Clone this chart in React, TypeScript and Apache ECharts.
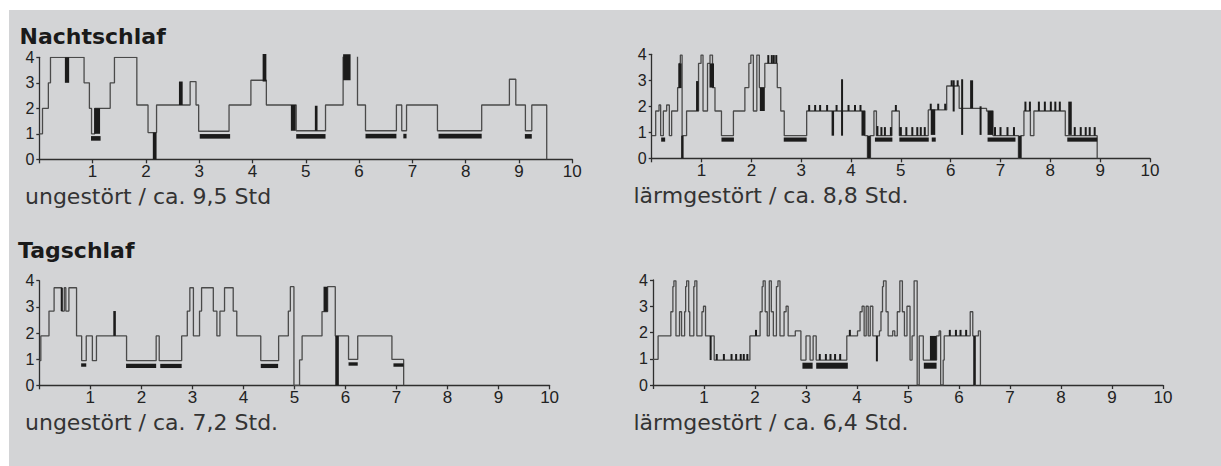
import React, { useEffect, useRef } from "react";
import * as echarts from "echarts";

// ---------- DATA ----------
// hypnogram steps: [hour, stage] (stage holds until next point)
const nightCalm = [
  [0, 1.0], [0.06, 2.0], [0.17, 3.0], [0.21, 4.0], [0.84, 3.0], [0.94, 2.0], [0.98, 1.0], [1.04, 2.0],
  [1.33, 3.0], [1.41, 4.0], [1.83, 2.13], [2.04, 1.05], [2.2, 2.13], [2.83, 3.05], [2.94, 2.13], [2.99, 1.1],
  [3.56, 2.13], [3.97, 3.1], [4.26, 2.13], [4.82, 1.12], [5.37, 2.13], [5.7, 4.12], [5.97, 2.13], [6.12, 1.12],
  [6.7, 2.13], [6.8, 1.12], [6.89, 2.13], [7.47, 1.12], [8.3, 2.13], [8.82, 3.14], [8.94, 2.13], [9.12, 1.12],
  [9.24, 2.13], [9.52, 0],
];
const nightNoise = [
  [0, 0.87], [0.08, 1.82], [0.147, 2.05], [0.18, 0.87], [0.234, 1.82], [0.3, 2.05], [0.354, 0.87], [0.4, 1.82],
  [0.52, 2.72], [0.555, 3.65], [0.575, 3.97], [0.61, 0.87], [0.7, 1.82], [0.94, 3.65], [0.99, 3.97], [1.03, 1.82],
  [1.12, 3.65], [1.17, 3.97], [1.22, 2.72], [1.27, 1.82], [1.4, 0.87], [1.64, 1.82], [1.87, 2.72], [1.95, 3.65],
  [1.99, 3.97], [2.04, 1.82], [2.11, 3.97], [2.16, 2.72], [2.27, 3.65], [2.52, 2.72], [2.59, 1.82], [2.66, 0.87],
  [3.11, 1.82], [4.28, 0.87], [4.33, 0], [4.39, 0.87], [4.46, 1.82], [4.51, 0.87], [4.82, 1.82], [4.97, 0.87],
  [5.55, 1.86], [5.92, 2.78], [6.17, 1.92], [6.72, 1.82], [6.85, 0.87], [7.36, 0], [7.41, 0.87], [7.47, 1.82],
  [7.6, 0.87], [7.67, 1.82], [8.3, 0.87], [8.94, 0],
];
const dayCalm = [
  [0, 0.94], [0.03, 1.89], [0.19, 2.84], [0.29, 3.73], [0.44, 2.84], [0.49, 3.73], [0.52, 2.84], [0.58, 3.73],
  [0.73, 1.89], [0.83, 0.94], [0.92, 1.89], [1.04, 0.94], [1.12, 1.89], [1.71, 0.94], [2.29, 1.89], [2.35, 0.94],
  [2.79, 1.89], [2.9, 2.84], [2.95, 3.73], [3.02, 1.89], [3.14, 2.84], [3.18, 3.73], [3.41, 2.84], [3.48, 1.89],
  [3.54, 2.84], [3.63, 3.73], [3.8, 2.84], [3.87, 1.89], [4.34, 0.94], [4.69, 1.89], [4.88, 2.84], [4.92, 3.77],
  [4.99, 0], [5.1, 0.97], [5.15, 1.89], [5.54, 2.82], [5.65, 3.77], [5.8, 1.89], [6.06, 0.99], [6.24, 1.89],
  [6.91, 0.99], [7.14, 0],
];
const dayNoise = [
  [0, 0.98], [0.1, 1.87], [0.35, 2.79], [0.39, 3.75], [0.41, 3.97], [0.45, 1.87], [0.52, 2.79], [0.56, 1.87],
  [0.62, 2.79], [0.64, 3.75], [0.66, 3.97], [0.7, 2.79], [0.72, 1.87], [0.8, 3.75], [0.82, 3.97], [0.86, 1.87],
  [0.96, 2.79], [0.99, 3.0], [1.03, 1.87], [1.2, 0.95], [1.9, 1.87], [2.1, 2.79], [2.14, 3.75], [2.16, 3.97],
  [2.2, 2.79], [2.24, 1.87], [2.28, 3.97], [2.32, 2.79], [2.36, 1.87], [2.42, 3.75], [2.45, 3.97], [2.49, 1.87],
  [2.57, 2.79], [2.61, 3.0], [2.65, 1.87], [2.79, 2.06], [2.9, 0.95], [3.0, 1.87], [3.08, 0.95], [3.14, 1.87],
  [3.2, 0.95], [3.8, 1.87], [4.01, 2.06], [4.06, 2.79], [4.1, 3.0], [4.14, 1.87], [4.18, 3.0], [4.22, 1.87],
  [4.26, 3.0], [4.31, 1.87], [4.44, 2.06], [4.47, 2.79], [4.5, 3.75], [4.52, 3.97], [4.57, 2.79], [4.61, 1.87],
  [4.7, 2.06], [4.74, 1.87], [4.79, 2.79], [4.84, 3.97], [4.89, 2.79], [4.93, 1.87], [4.98, 3.0], [5.04, 0.95],
  [5.08, 1.87], [5.12, 3.97], [5.18, 0], [5.22, 1.87], [5.3, 0.95], [5.56, 1.87], [5.61, 2.06], [5.64, 0],
  [5.69, 0.95], [5.71, 1.87], [6.22, 2.79], [6.27, 1.87], [6.3, 0], [6.32, 1.87], [6.38, 2.06], [6.42, 0],
];

// black blocks: [hourFrom, hourTo, stageFrom, stageTo]
const nightCalmBlocks = [
  [0.48, 0.56, 4.0, 3.0], [1.03, 1.14, 2.0, 1.0], [2.13, 2.2, 1.05, 0], [2.62, 2.69, 3.05, 2.13],
  [4.19, 4.26, 4.13, 3.05], [4.72, 4.81, 2.13, 1.12], [5.17, 5.22, 2.1, 1.12], [5.7, 5.84, 4.12, 3.1],
  [0.97, 1.15, 0.73, 0.91], [3.01, 3.58, 0.81, 0.99], [4.82, 5.37, 0.81, 0.99], [6.12, 6.7, 0.82, 1.0],
  [6.83, 6.89, 0.82, 1.0], [7.49, 8.3, 0.82, 1.0], [9.11, 9.24, 0.81, 0.99],
];
const nightNoiseBlocks = [
  [0.535, 0.6, 3.65, 2.7], [0.59, 0.64, 0.87, 0], [0.89, 0.94, 2.97, 1.82], [1.16, 1.25, 3.65, 2.72],
  [2.17, 2.27, 2.72, 1.82], [3.61, 3.66, 1.82, 0.87], [3.8, 3.84, 3.04, 1.82], [4.21, 4.28, 1.82, 0.87],
  [4.33, 4.39, 0.87, 0], [4.51, 4.55, 1.24, 0.87], [4.78, 4.82, 1.2, 0.87], [4.97, 5.02, 1.2, 0.87],
  [5.6, 5.69, 1.88, 0.9], [6.04, 6.08, 3.0, 1.8], [6.21, 6.25, 3.04, 0.9], [6.39, 6.45, 3.0, 1.92],
  [6.74, 6.85, 1.82, 0.9], [7.36, 7.42, 0.87, 0], [8.36, 8.43, 2.18, 0.9],
  [0.19, 0.27, 0.64, 0.8], [1.4, 1.65, 0.64, 0.8], [2.65, 3.11, 0.64, 0.8], [4.48, 4.83, 0.64, 0.8],
  [4.97, 5.56, 0.64, 0.8], [5.62, 5.7, 0.64, 0.8], [6.74, 7.3, 0.64, 0.8], [8.34, 8.94, 0.64, 0.8],
];
const dayCalmBlocks = [
  [0.42, 0.46, 3.73, 2.84], [1.45, 1.5, 2.84, 1.89], [5.57, 5.65, 3.77, 2.82], [5.8, 5.87, 1.89, 0],
  [0.82, 0.92, 0.71, 0.84], [1.7, 2.29, 0.66, 0.82], [2.37, 2.79, 0.66, 0.82], [4.34, 4.68, 0.66, 0.82],
  [6.06, 6.24, 0.75, 0.88], [6.94, 7.14, 0.71, 0.84],
];
const dayNoiseBlocks = [
  [2.93, 3.13, 0.62, 0.85], [3.2, 3.82, 0.62, 0.85], [5.31, 5.56, 0.62, 0.85], [5.43, 5.56, 1.87, 0.95],
];

// thin marks: [hour, stageFrom, stageTo]
const nightCalmMarks: number[][] = [];
const nightNoiseMarks = [
  [2.34, 3.65, 3.97], [2.41, 3.65, 3.97], [2.45, 3.65, 3.97], [2.5, 3.65, 3.97],
  [3.16, 1.82, 2.05], [3.28, 1.82, 2.05], [3.38, 1.82, 2.05], [3.52, 1.82, 2.05], [3.71, 1.82, 2.05],
  [3.95, 1.82, 2.05], [4.08, 1.82, 2.05], [4.19, 1.82, 2.05], [4.9, 1.82, 2.05], [3.82, 1.82, 0.87],
  [4.61, 0.87, 1.2], [4.68, 0.87, 1.2], [5.11, 0.87, 1.2], [5.23, 0.87, 1.2], [5.33, 0.87, 1.2],
  [5.4, 0.87, 1.2], [5.48, 0.87, 1.2], [5.6, 1.86, 2.1], [5.75, 1.86, 2.1], [5.89, 1.86, 2.1],
  [6.02, 2.78, 3.0], [6.14, 2.78, 3.0], [6.6, 2.0, 0.9], [6.89, 0.87, 1.2], [7.0, 0.87, 1.2],
  [7.14, 0.87, 1.2], [7.27, 0.87, 1.2], [7.5, 1.82, 2.18], [7.59, 1.82, 2.18], [7.77, 1.82, 2.18],
  [7.89, 1.82, 2.18], [8.01, 1.82, 2.18], [8.1, 1.82, 2.18], [8.19, 1.82, 2.18], [8.49, 0.87, 1.2],
  [8.61, 0.87, 1.2], [8.71, 0.87, 1.2], [8.79, 0.87, 1.2], [8.89, 0.87, 1.2],
];
const dayCalmMarks: number[][] = [];
const dayNoiseMarks = [
  [1.13, 1.87, 0.95], [4.39, 1.87, 0.9], [6.3, 1.87, 0],
  [1.25, 0.95, 1.18], [1.39, 0.95, 1.18], [1.54, 0.95, 1.18], [1.63, 0.95, 1.18], [1.72, 0.95, 1.18],
  [1.78, 0.95, 1.18], [1.85, 0.95, 1.18], [3.27, 0.95, 1.18], [3.39, 0.95, 1.18], [3.48, 0.95, 1.18],
  [3.57, 0.95, 1.18], [3.67, 0.95, 1.18], [2.02, 1.87, 2.1], [3.86, 1.87, 2.1], [5.82, 1.87, 2.1],
  [5.94, 1.87, 2.1], [6.03, 1.87, 2.1], [6.14, 1.87, 2.1],
];

const hourTicks = [0, 1, 2, 3, 4, 5, 6, 7, 8, 9, 10];
const stageTicks = [0, 1, 2, 3, 4];

const titles = ["Nachtschlaf", "Tagschlaf"];
const captions = [
  "ungestört / ca. 9,5 Std",
  "lärmgestört / ca. 8,8 Std.",
  "ungestört / ca. 7,2 Std.",
  "lärmgestört / ca. 6,4 Std.",
];

const panels = [
  { line: nightCalm, blocks: nightCalmBlocks, marks: nightCalmMarks },
  { line: nightNoise, blocks: nightNoiseBlocks, marks: nightNoiseMarks },
  { line: dayCalm, blocks: dayCalmBlocks, marks: dayCalmMarks },
  { line: dayNoise, blocks: dayNoiseBlocks, marks: dayNoiseMarks },
];

// ---------- LAYOUT ----------
const GRIDS = [
  { left: 39.3, top: 57.3, width: 533, height: 102 },
  { left: 651.7, top: 54.3, width: 498.3, height: 104 },
  { left: 39.3, top: 280.7, width: 510.3, height: 104.6 },
  { left: 653, top: 280, width: 510, height: 105 },
];
const CAPTION_POS = [
  [25, 196],
  [633.5, 195],
  [25, 422],
  [633.5, 422],
];
const TITLE_POS = [
  [19.5, 36],
  [18, 250],
];

const AXIS_COLOR = "#2e2e2e";
const INK = "#1b1b1b";

export default function App() {
  const ref = useRef<HTMLDivElement>(null);

  useEffect(() => {
    if (!ref.current) return;
    const chart = echarts.init(ref.current, undefined, { renderer: "svg" });

    const xAxes = GRIDS.map((_, i) => ({
      type: "value",
      gridIndex: i,
      min: hourTicks[0],
      max: hourTicks[hourTicks.length - 1],
      interval: 1,
      axisLine: { show: true, onZero: false, lineStyle: { color: AXIS_COLOR, width: 1.3 } },
      axisTick: { show: true, length: 4, lineStyle: { color: AXIS_COLOR, width: 1.3 } },
      axisLabel: {
        show: true,
        fontSize: 17,
        fontFamily: "Liberation Sans",
        color: "#222",
        margin: 4,
        formatter: (v: number) => (v === 0 ? "" : String(v)),
      },
      splitLine: { show: false },
    }));
    const yAxes = GRIDS.map((_, i) => ({
      type: "value",
      gridIndex: i,
      min: stageTicks[0],
      max: stageTicks[stageTicks.length - 1],
      interval: 1,
      axisLine: { show: true, onZero: false, lineStyle: { color: AXIS_COLOR, width: 1.3 } },
      axisTick: { show: true, length: 3, lineStyle: { color: AXIS_COLOR, width: 1.3 } },
      axisLabel: { show: true, fontSize: 16, fontFamily: "Liberation Sans", color: "#222", margin: 5 },
      splitLine: { show: false },
    }));

    const series: any[] = [];
    panels.forEach((p, i) => {
      series.push({
        type: "line",
        xAxisIndex: i,
        yAxisIndex: i,
        data: p.line,
        step: "end",
        symbol: "none",
        lineStyle: { color: "#4a4a4a", width: 1.3 },
        z: 2,
      });
      series.push({
        type: "custom",
        xAxisIndex: i,
        yAxisIndex: i,
        data: p.blocks,
        encode: { x: [0, 1], y: [2, 3] },
        z: 3,
        renderItem: (_params: any, api: any) => {
          const a = api.coord([api.value(0), api.value(2)]);
          const b = api.coord([api.value(1), api.value(3)]);
          return {
            type: "rect",
            shape: {
              x: Math.min(a[0], b[0]),
              y: Math.min(a[1], b[1]),
              width: Math.abs(b[0] - a[0]),
              height: Math.abs(b[1] - a[1]),
            },
            style: { fill: INK },
          };
        },
      });
      series.push({
        type: "custom",
        xAxisIndex: i,
        yAxisIndex: i,
        data: p.marks,
        encode: { x: 0, y: [1, 2] },
        z: 3,
        renderItem: (_params: any, api: any) => {
          const a = api.coord([api.value(0), api.value(1)]);
          const b = api.coord([api.value(0), api.value(2)]);
          return {
            type: "line",
            shape: { x1: a[0], y1: a[1], x2: b[0], y2: b[1] },
            style: { stroke: INK, lineWidth: 2 },
          };
        },
      });
    });

    const graphics: any[] = [];
    titles.forEach((t, i) => {
      graphics.push({
        type: "text",
        x: TITLE_POS[i][0],
        y: TITLE_POS[i][1],
        style: {
          text: t,
          fontFamily: "DejaVu Sans",
          fontWeight: "bold",
          fontSize: 22,
          fill: "#1a1a1a",
          align: "left",
          verticalAlign: "middle",
        },
      });
    });
    captions.forEach((t, i) => {
      graphics.push({
        type: "text",
        x: CAPTION_POS[i][0],
        y: CAPTION_POS[i][1],
        style: {
          text: t,
          fontFamily: "DejaVu Sans",
          fontWeight: "normal",
          fontSize: 22,
          fill: "#333333",
          align: "left",
          verticalAlign: "middle",
        },
      });
    });

    chart.setOption({
      animation: false,
      grid: GRIDS.map((g) => ({ ...g, containLabel: false })),
      xAxis: xAxes,
      yAxis: yAxes,
      series,
      graphic: graphics,
    });

    return () => chart.dispose();
  }, []);

  return (
    <div style={{ position: "fixed", left: 0, top: 0, width: 1221, height: 466, background: "#ffffff" }}>
      <div style={{ position: "absolute", left: 9, top: 10, right: 0, bottom: 0, background: "#d3d4d6" }} />
      <div ref={ref} style={{ position: "absolute", left: 0, top: 0, width: 1221, height: 466 }} />
    </div>
  );
}
